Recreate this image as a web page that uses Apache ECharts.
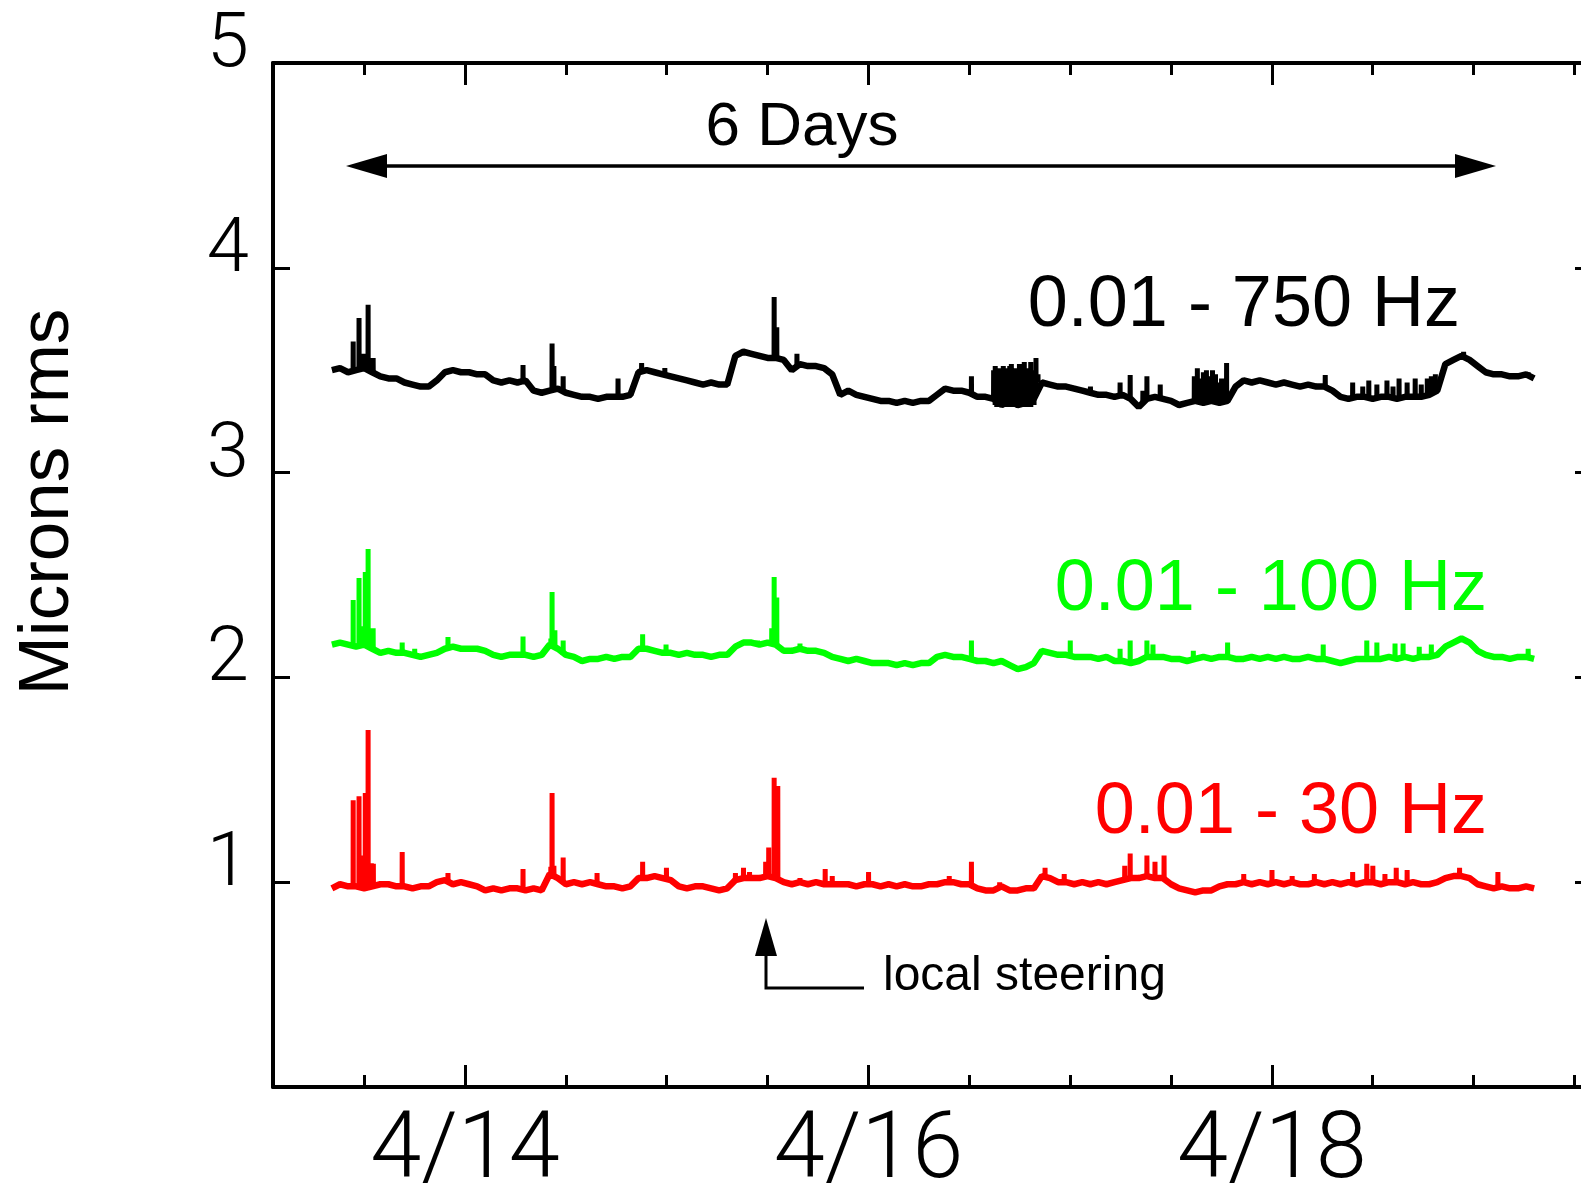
<!DOCTYPE html>
<html>
<head>
<meta charset="utf-8">
<title>Microns rms over 6 days</title>
<script src="https://cdn.jsdelivr.net/npm/echarts@6/dist/echarts.min.js"></script>
<style>
  html, body { margin: 0; padding: 0; background: #fff; }
  #chart { width: 1581px; height: 1200px; }
</style>
</head>
<body>
<div id="chart"></div>
<script>
// Sample times, in days of April (14.0 = 4/14 00:00)
const sampleDays = [
  13.34,13.38,13.42,13.46,13.50,13.54,13.58,13.62,13.66,13.70,
  13.74,13.78,13.82,13.86,13.90,13.94,13.98,14.02,14.06,14.10,
  14.14,14.18,14.22,14.26,14.30,14.34,14.38,14.42,14.46,14.50,
  14.54,14.58,14.62,14.66,14.70,14.74,14.78,14.82,14.86,14.90,
  14.94,14.98,15.02,15.06,15.10,15.14,15.18,15.22,15.26,15.30,
  15.34,15.38,15.42,15.46,15.50,15.54,15.58,15.62,15.66,15.70,
  15.74,15.78,15.82,15.86,15.90,15.94,15.98,16.02,16.06,16.10,
  16.14,16.18,16.22,16.26,16.30,16.34,16.38,16.42,16.46,16.50,
  16.54,16.58,16.62,16.66,16.70,16.74,16.78,16.82,16.86,16.90,
  16.94,16.98,17.02,17.06,17.10,17.14,17.18,17.22,17.26,17.30,
  17.34,17.38,17.42,17.46,17.50,17.54,17.58,17.62,17.66,17.70,
  17.74,17.78,17.82,17.86,17.90,17.94,17.98,18.02,18.06,18.10,
  18.14,18.18,18.22,18.26,18.30,18.34,18.38,18.42,18.46,18.50,
  18.54,18.58,18.62,18.66,18.70,18.74,18.78,18.82,18.86,18.90,
  18.94,18.98,19.02,19.06,19.10,19.14,19.18,19.22,19.26,19.30
];

// 0.01 - 750 Hz band (microns rms)
const band750 = [
  3.50,3.51,3.49,3.50,3.51,3.49,3.47,3.46,3.46,3.44,
  3.43,3.42,3.42,3.45,3.49,3.50,3.49,3.49,3.48,3.48,
  3.45,3.44,3.45,3.44,3.45,3.40,3.39,3.40,3.41,3.39,
  3.38,3.37,3.37,3.36,3.37,3.37,3.37,3.38,3.49,3.50,
  3.49,3.48,3.47,3.46,3.45,3.44,3.43,3.44,3.43,3.43,
  3.57,3.59,3.58,3.57,3.56,3.56,3.55,3.50,3.53,3.52,
  3.52,3.51,3.48,3.38,3.40,3.38,3.37,3.36,3.35,3.35,
  3.34,3.35,3.34,3.35,3.35,3.38,3.41,3.40,3.40,3.39,
  3.37,3.37,3.36,3.33,3.35,3.33,3.34,3.36,3.44,3.43,
  3.42,3.42,3.41,3.40,3.39,3.38,3.38,3.37,3.38,3.36,
  3.32,3.36,3.37,3.36,3.35,3.33,3.34,3.35,3.34,3.35,
  3.34,3.35,3.42,3.45,3.44,3.45,3.44,3.43,3.44,3.43,
  3.42,3.43,3.42,3.42,3.40,3.37,3.36,3.37,3.37,3.36,
  3.37,3.37,3.36,3.37,3.37,3.37,3.38,3.40,3.53,3.55,
  3.57,3.55,3.52,3.49,3.48,3.48,3.47,3.47,3.48,3.46
];

// 0.01 - 100 Hz band
const band100 = [
  2.16,2.17,2.16,2.15,2.16,2.14,2.12,2.13,2.12,2.12,
  2.11,2.10,2.11,2.12,2.14,2.15,2.14,2.14,2.14,2.13,
  2.11,2.10,2.11,2.11,2.11,2.10,2.11,2.16,2.14,2.11,
  2.10,2.08,2.09,2.09,2.10,2.09,2.10,2.10,2.14,2.14,
  2.13,2.12,2.12,2.11,2.12,2.11,2.11,2.10,2.11,2.11,
  2.15,2.17,2.17,2.16,2.17,2.16,2.13,2.13,2.14,2.13,
  2.13,2.12,2.10,2.09,2.08,2.09,2.08,2.07,2.07,2.07,
  2.06,2.07,2.06,2.07,2.07,2.10,2.11,2.10,2.10,2.09,
  2.08,2.08,2.07,2.08,2.06,2.04,2.05,2.07,2.13,2.12,
  2.11,2.11,2.10,2.10,2.10,2.09,2.10,2.08,2.08,2.07,
  2.08,2.10,2.10,2.10,2.09,2.09,2.08,2.09,2.10,2.09,
  2.10,2.10,2.09,2.09,2.10,2.09,2.10,2.09,2.10,2.09,
  2.09,2.10,2.09,2.09,2.08,2.07,2.08,2.09,2.09,2.09,
  2.09,2.10,2.09,2.10,2.09,2.10,2.10,2.11,2.15,2.17,
  2.19,2.17,2.13,2.11,2.10,2.10,2.09,2.10,2.10,2.09
];

// 0.01 - 30 Hz band
const band30 = [
  0.97,0.99,0.98,0.98,0.97,0.98,0.99,0.99,0.98,0.98,
  0.97,0.98,0.98,1.00,1.01,0.99,1.00,0.99,0.98,0.96,
  0.97,0.96,0.97,0.97,0.96,0.97,0.96,1.04,1.02,0.99,
  1.00,0.99,1.00,0.99,0.98,0.98,0.97,0.98,1.02,1.02,
  1.03,1.02,1.01,0.98,0.97,0.98,0.98,0.97,0.96,0.97,
  1.01,1.02,1.02,1.02,1.03,1.02,1.00,0.99,1.00,0.99,
  1.00,0.99,0.99,0.99,0.99,0.98,0.99,0.99,0.98,0.99,
  0.98,0.99,0.98,0.98,0.99,0.99,1.00,1.00,0.99,0.99,
  0.97,0.96,0.96,0.98,0.96,0.96,0.97,0.97,1.03,1.02,
  1.00,1.00,0.99,1.00,0.99,1.00,0.99,1.00,1.01,1.02,
  1.02,1.03,1.02,1.02,0.99,0.97,0.96,0.95,0.96,0.96,
  0.98,0.99,0.99,1.00,0.99,1.00,0.99,1.00,0.99,1.00,
  0.99,0.99,1.00,0.99,1.00,0.99,1.00,0.99,1.00,1.00,
  0.99,1.00,1.00,0.99,1.00,0.99,0.99,1.00,1.02,1.03,
  1.03,1.02,0.99,0.98,0.97,0.98,0.97,0.97,0.98,0.97
];

// Short bursts: [day, level at the foot, peak]
const bursts750 = [
  [13.445,3.50,3.64],[13.474,3.50,3.755],[13.497,3.50,3.58],[13.519,3.50,3.82],[13.544,3.49,3.56],
  [14.287,3.45,3.525],[14.431,3.41,3.63],[14.440,3.41,3.52],[14.486,3.40,3.47],[14.758,3.37,3.46],
  [14.875,3.50,3.535],[14.99,3.48,3.51],[15.532,3.56,3.857],[15.545,3.56,3.71],[15.645,3.52,3.58],
  [16.51,3.39,3.47],
  [16.620,3.35,3.50],[16.628,3.33,3.52],[16.636,3.32,3.47],[16.644,3.32,3.51],[16.652,3.33,3.46],
  [16.660,3.32,3.50],[16.668,3.32,3.52],[16.676,3.33,3.48],[16.684,3.32,3.51],[16.692,3.32,3.45],
  [16.700,3.33,3.52],[16.708,3.32,3.53],[16.716,3.32,3.49],[16.724,3.33,3.47],[16.732,3.32,3.51],
  [16.740,3.32,3.46],[16.748,3.33,3.53],[16.756,3.32,3.50],[16.764,3.32,3.48],[16.772,3.33,3.54],
  [16.780,3.32,3.47],[16.788,3.32,3.51],[16.796,3.33,3.49],[16.804,3.32,3.54],[16.812,3.33,3.46],
  [16.820,3.33,3.50],[16.830,3.38,3.56],[16.840,3.44,3.48],
  [17.10,3.39,3.42],[17.247,3.37,3.44],[17.297,3.37,3.476],[17.36,3.35,3.40],[17.38,3.36,3.47],
  [17.446,3.36,3.43],
  [17.615,3.35,3.47],[17.63,3.34,3.51],[17.645,3.34,3.46],[17.66,3.34,3.49],[17.675,3.35,3.50],
  [17.69,3.34,3.47],[17.705,3.34,3.50],[17.72,3.35,3.48],[17.735,3.34,3.44],[17.75,3.34,3.46],
  [17.775,3.35,3.535],[18.264,3.42,3.476],
  [18.40,3.37,3.44],[18.45,3.36,3.42],[18.48,3.37,3.45],[18.52,3.36,3.43],[18.57,3.37,3.45],
  [18.60,3.37,3.42],[18.63,3.37,3.46],[18.67,3.37,3.44],[18.71,3.37,3.46],[18.74,3.37,3.43],
  [18.77,3.38,3.46],[18.79,3.38,3.47],[18.81,3.39,3.48],[18.95,3.57,3.59],[19.27,3.47,3.49]
];

const bursts100 = [
  [13.445,2.15,2.378],[13.474,2.15,2.485],[13.49,2.15,2.25],[13.505,2.15,2.515],[13.519,2.15,2.627],
  [13.544,2.14,2.24],[13.688,2.12,2.17],[13.75,2.11,2.14],[13.915,2.14,2.197],[14.287,2.11,2.20],
  [14.425,2.15,2.19],[14.431,2.16,2.417],[14.445,2.14,2.23],[14.486,2.11,2.18],[14.88,2.14,2.21],
  [14.996,2.12,2.16],[15.45,2.16,2.18],[15.52,2.17,2.24],[15.532,2.17,2.49],[15.545,2.16,2.39],
  [15.66,2.13,2.165],[16.51,2.09,2.18],[17.0,2.11,2.18],[17.247,2.08,2.14],[17.297,2.08,2.18],
  [17.38,2.09,2.18],[17.41,2.10,2.16],[17.61,2.09,2.13],[17.78,2.10,2.17],[18.254,2.09,2.16],
  [18.47,2.09,2.18],[18.52,2.09,2.17],[18.61,2.09,2.165],[18.65,2.10,2.165],[18.73,2.10,2.15],
  [18.79,2.10,2.16],[19.27,2.10,2.14]
];

const bursts30 = [
  [13.445,0.98,1.40],[13.474,0.98,1.42],[13.487,0.98,1.09],[13.497,0.98,1.13],[13.505,0.98,1.435],
  [13.519,0.98,1.743],[13.535,0.98,1.093],[13.545,0.98,1.09],[13.688,0.99,1.147],[13.915,1.01,1.045],
  [14.287,0.97,1.064],[14.425,1.05,1.075],[14.431,1.05,1.435],[14.44,1.04,1.08],[14.486,1.00,1.12],
  [14.654,0.99,1.045],[14.88,1.02,1.10],[14.998,1.02,1.07],[15.34,1.01,1.045],[15.38,1.02,1.07],
  [15.41,1.02,1.05],[15.49,1.03,1.10],[15.505,1.03,1.17],[15.532,1.03,1.51],[15.55,1.02,1.47],
  [15.66,0.99,1.02],[15.785,0.99,1.064],[15.82,0.99,1.03],[16.0,0.99,1.05],[16.40,1.00,1.03],
  [16.51,0.99,1.10],[16.65,0.97,1.00],[16.875,1.02,1.07],[16.97,1.00,1.04],[17.27,1.01,1.08],
  [17.297,1.02,1.14],[17.38,1.03,1.13],[17.42,1.02,1.10],[17.465,1.02,1.13],[17.86,1.00,1.04],
  [18.0,0.99,1.06],[18.10,1.00,1.03],[18.21,1.00,1.04],[18.40,0.99,1.05],[18.47,1.00,1.09],
  [18.50,1.00,1.08],[18.56,0.99,1.04],[18.616,1.00,1.07],[18.67,0.99,1.06],[18.93,1.03,1.07],
  [19.12,0.97,1.05]
];

// Axis ticks (days of April)
const majorDays = [14, 16, 18];
const minorDays = [13.5, 14.5, 15, 15.5, 16.5, 17, 17.5, 18.5, 19, 19.5];
const dayMin = 13.048;
const dayMax = 19.587;

// Band labels
const bandNames = ['0.01 - 750 Hz', '0.01 - 100 Hz', '0.01 - 30 Hz'];
const bandColors = ['#000000', '#00ff00', '#ff0000'];

// Slow trend of a band
function trendPoints(days, values) {
  return days.map((d, i) => [d, values[i]]);
}

// Vertical strokes for bursts, separated by gaps
function burstPoints(bursts) {
  const pts = [];
  bursts.forEach(([d, lvl, peak]) => {
    pts.push([d, lvl], [d + 0.0005, peak], [d + 0.001, lvl], [d + 0.0012, '-']);
  });
  return pts;
}

const trends = [
  trendPoints(sampleDays, band750),
  trendPoints(sampleDays, band100),
  trendPoints(sampleDays, band30)
];
const burstSets = [burstPoints(bursts750), burstPoints(bursts100), burstPoints(bursts30)];

const chart = echarts.init(document.getElementById('chart'), null, { renderer: 'canvas' });

const sansFont = "'Liberation Sans', Arial, sans-serif";
const thinFont = "Roboto, 'Liberation Sans', sans-serif";

function xAxisDef(position, values, len, showLine, showLabel) {
  return {
    type: 'value', position, min: dayMin, max: dayMax,
    axisLine: { show: showLine, onZero: false, lineStyle: { color: '#000', width: 4 } },
    axisTick: { show: true, inside: true, length: len, customValues: values,
                lineStyle: { color: '#000', width: 3 } },
    axisLabel: showLabel ? {
      show: true, customValues: values, margin: 21,
      formatter: v => '4/' + v,
      fontFamily: thinFont, fontWeight: 300, fontSize: 92, color: '#000'
    } : { show: false },
    splitLine: { show: false }
  };
}

function lineSeries(name, data, color, width, z) {
  return {
    name, type: 'line', data,
    xAxisIndex: 0, yAxisIndex: 0,
    showSymbol: false, symbol: 'none', sampling: null,
    connectNulls: false, silent: true, z,
    lineStyle: { color, width, join: 'bevel' }
  };
}

const series = [];
trends.forEach((data, i) => {
  series.push(lineSeries(bandNames[i], data, bandColors[i], 6.5, 3 - i));
  series.push(lineSeries(bandNames[i] + ' bursts', burstSets[i], bandColors[i], 5, 3 - i));
});

const option = {
  backgroundColor: '#ffffff',
  animation: false,
  grid: { left: 273, top: 63, width: 1319, height: 1024, containLabel: false, outerBoundsMode: 'none' },
  xAxis: [
    xAxisDef('bottom', majorDays, 22, true, true),
    xAxisDef('bottom', minorDays, 12, false, false),
    xAxisDef('top', majorDays, 22, true, false),
    xAxisDef('top', minorDays, 12, false, false)
  ],
  yAxis: [
    {
      type: 'value', position: 'left', min: 0, max: 5, interval: 1,
      axisLine: { show: true, onZero: false, lineStyle: { color: '#000', width: 4 } },
      axisTick: { show: true, inside: true, length: 17, lineStyle: { color: '#000', width: 3 } },
      axisLabel: {
        show: true, margin: 24, verticalAlign: 'bottom', lineHeight: 32,
        formatter: v => (v === 0 ? '' : String(v)),
        fontFamily: thinFont, fontWeight: 300, fontSize: 76, color: '#000'
      },
      splitLine: { show: false }
    },
    {
      type: 'value', position: 'right', min: 0, max: 5, interval: 1,
      axisLine: { show: true, onZero: false, lineStyle: { color: '#000', width: 4 } },
      axisTick: { show: true, inside: true, length: 17, lineStyle: { color: '#000', width: 3 } },
      axisLabel: { show: false },
      splitLine: { show: false }
    }
  ],
  series,
  graphic: [
    // y axis title
    { type: 'text', x: 48, y: 502, rotation: Math.PI / 2,
      style: { text: 'Microns rms', font: '71px ' + sansFont, fill: '#000',
               align: 'center', verticalAlign: 'middle' } },
    // six-day span arrow
    { type: 'line', shape: { x1: 380, y1: 166, x2: 1462, y2: 166 },
      style: { stroke: '#000', lineWidth: 3.5 } },
    { type: 'polygon', shape: { points: [[346, 166], [387, 154], [387, 178]] },
      style: { fill: '#000' } },
    { type: 'polygon', shape: { points: [[1496, 166], [1455, 154], [1455, 178]] },
      style: { fill: '#000' } },
    { type: 'text', x: 802, y: 128,
      style: { text: '6 Days', font: '62px ' + sansFont, fill: '#000',
               align: 'center', verticalAlign: 'middle' } },
    // local steering marker
    { type: 'polygon', shape: { points: [[766, 918], [755, 956], [777, 956]] },
      style: { fill: '#000' } },
    { type: 'polyline', shape: { points: [[766, 950], [766, 988], [864, 988]] },
      style: { stroke: '#000', lineWidth: 3, fill: null } },
    { type: 'text', x: 883, y: 977,
      style: { text: 'local steering', font: '48px ' + sansFont, fill: '#000',
               align: 'left', verticalAlign: 'middle' } },
    // band labels
    { type: 'text', x: 1460, y: 306,
      style: { text: bandNames[0], font: '72px ' + sansFont, fill: bandColors[0],
               align: 'right', verticalAlign: 'middle' } },
    { type: 'text', x: 1487, y: 590,
      style: { text: bandNames[1], font: '72px ' + sansFont, fill: bandColors[1],
               align: 'right', verticalAlign: 'middle' } },
    { type: 'text', x: 1487, y: 813,
      style: { text: bandNames[2], font: '72px ' + sansFont, fill: bandColors[2],
               align: 'right', verticalAlign: 'middle' } }
  ]
};

chart.setOption(option);
</script>
</body>
</html>
